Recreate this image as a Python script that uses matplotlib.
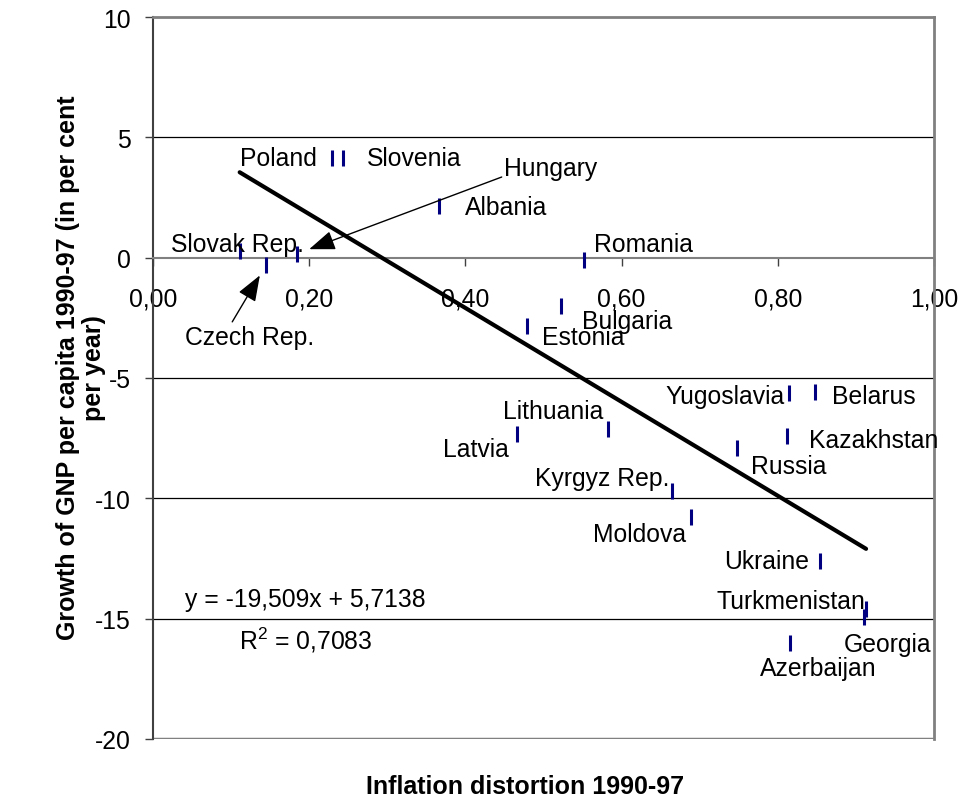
import matplotlib
matplotlib.use("Agg")
import matplotlib.pyplot as plt
from matplotlib.ticker import FuncFormatter, MultipleLocator

plt.rcParams['font.family'] = ['Liberation Sans', 'DejaVu Sans']
plt.rcParams['axes.unicode_minus'] = False
plt.rcParams['mathtext.fontset'] = 'custom'
plt.rcParams['mathtext.rm'] = 'Liberation Sans'
plt.rcParams['mathtext.default'] = 'regular'

# data
countries = ['Poland', 'Slovenia', 'Albania', 'Slovak Rep.', 'Czech Rep.', 'Hungary',
             'Romania', 'Bulgaria', 'Estonia', 'Lithuania', 'Latvia', 'Kyrgyz Rep.',
             'Moldova', 'Russia', 'Yugoslavia', 'Belarus', 'Kazakhstan', 'Ukraine',
             'Turkmenistan', 'Georgia', 'Azerbaijan']
inflation = [0.229, 0.243, 0.366, 0.111, 0.145, 0.185,
             0.552, 0.522, 0.479, 0.583, 0.466, 0.664,
             0.689, 0.748, 0.814, 0.847, 0.812, 0.854,
             0.913, 0.910, 0.815]
growth = [4.15, 4.15, 2.16, 0.26, -0.29, 0.17,
          -0.11, -2.02, -2.83, -7.12, -7.33, -9.71,
          -10.79, -7.91, -5.62, -5.60, -7.42, -12.62,
          -14.60, -14.93, -16.0]
slope = -19.509
intercept = 5.7138
r_squared = 0.7083

# label placement: (dx, dy) in pixels from the marker, horizontal alignment
label_pos = {
    'Poland': (-15, 0, 'right'),
    'Slovenia': (24, 0, 'left'),
    'Albania': (26, -1, 'left'),
    'Slovak Rep.': (-2, 7, 'center'),
    'Romania': (10, 16, 'left'),
    'Bulgaria': (21, -15, 'left'),
    'Estonia': (15, -11, 'left'),
    'Lithuania': (-5, 18, 'right'),
    'Latvia': (-8, -15, 'right'),
    'Kyrgyz Rep.': (-2, 13, 'right'),
    'Moldova': (-5, -17, 'right'),
    'Russia': (14, -18, 'left'),
    'Yugoslavia': (-4, -3, 'right'),
    'Belarus': (17, -4, 'left'),
    'Kazakhstan': (22, -4, 'left'),
    'Ukraine': (-11, 0, 'right'),
    'Turkmenistan': (-1, 8, 'right'),
    'Georgia': (-20, -27, 'left'),
    'Azerbaijan': (29, -25, 'center'),
}

fig = plt.figure(figsize=(9.63, 8.03), dpi=100)
ax = fig.add_axes([153 / 963, 1 - 740 / 803, 781 / 963, 722 / 803])

ax.set_xlim(0, 1)
ax.set_ylim(-20, 10)

# gridlines and frame
for v in [5, -5, -10, -15]:
    ax.axhline(v, color='black', lw=0.9, zorder=1)
ax.spines['top'].set_color('#808080')
ax.spines['top'].set_linewidth(2)
ax.spines['right'].set_color('#808080')
ax.spines['right'].set_linewidth(2)
ax.spines['left'].set_color('#404040')
ax.spines['left'].set_linewidth(1.5)
ax.axhline(-20, color='#808080', lw=2.5, zorder=1)
ax.spines['bottom'].set_position(('data', 0))
ax.spines['bottom'].set_color('#808080')
ax.spines['bottom'].set_linewidth(1.5)

ax.xaxis.set_major_locator(MultipleLocator(0.2))
ax.yaxis.set_major_locator(MultipleLocator(5))
ax.xaxis.set_major_formatter(FuncFormatter(lambda v, p: f'{v:.2f}'.replace('.', ',')))
ax.yaxis.set_major_formatter(FuncFormatter(lambda v, p: f'{v:.0f}'))
ax.tick_params(axis='x', direction='out', length=6, width=1, color='#404040',
               labelsize=17.8, pad=15)
ax.tick_params(axis='y', direction='out', length=6, width=1, color='#404040',
               labelsize=17.8, pad=10)

# scatter markers
ax.plot(inflation, growth, linestyle='none', marker='|', markersize=11,
        markeredgewidth=2.2, color='#000080', zorder=3)

# trend line
x0, x1 = min(inflation), max(inflation)
ax.plot([x0, x1], [slope * x0 + intercept, slope * x1 + intercept],
        color='black', lw=3, solid_capstyle='round', zorder=4)

# country labels
for name, x, y in zip(countries, inflation, growth):
    if name in label_pos:
        dx, dy, ha = label_pos[name]
        ax.annotate(name, (x, y), xytext=(dx, dy), textcoords='offset pixels',
                    ha=ha, va='center', fontsize=17.8, zorder=5)

arrow = dict(arrowstyle='-|>,head_length=0.8,head_width=0.3', mutation_scale=20,
             color='black', lw=1, shrinkA=0, shrinkB=9)
i = countries.index('Hungary')
ax.annotate('Hungary', (inflation[i], growth[i]), xytext=(207, 86),
            textcoords='offset pixels', ha='left', va='center', fontsize=17.8,
            arrowprops=dict(arrow, relpos=(0, 0.15)), zorder=5)
i = countries.index('Czech Rep.')
ax.annotate('Czech Rep.', (inflation[i], growth[i]), xytext=(-17, -72),
            textcoords='offset pixels', ha='center', va='center', fontsize=17.8,
            arrowprops=dict(arrow, relpos=(0.35, 0.95)), zorder=5)

# regression text
eq = f'y = {slope:.3f}x + {intercept:.4f}'.replace('.', ',')
ax.text(0.1946, 0.1939, eq, transform=ax.transAxes, ha='center', va='center',
        fontsize=17.8)
ax.text(0.1953, 0.1385, f'R$^2$ = {r_squared:.4f}'.replace('.', ','),
        transform=ax.transAxes, ha='center', va='center', fontsize=17.8)

fig.text(525 / 963, 1 - 787 / 803, 'Inflation distortion 1990-97', ha='center',
         va='center', fontsize=18, fontweight='bold')
fig.text(68 / 963, 1 - 368 / 803, 'Growth of GNP per capita 1990-97 (in per cent',
         ha='center', va='center', rotation=90, fontsize=18, fontweight='bold')
fig.text(94 / 963, 1 - 368 / 803, 'per year)',
         ha='center', va='center', rotation=90, fontsize=18, fontweight='bold')

fig.savefig('out.png', dpi=100)
